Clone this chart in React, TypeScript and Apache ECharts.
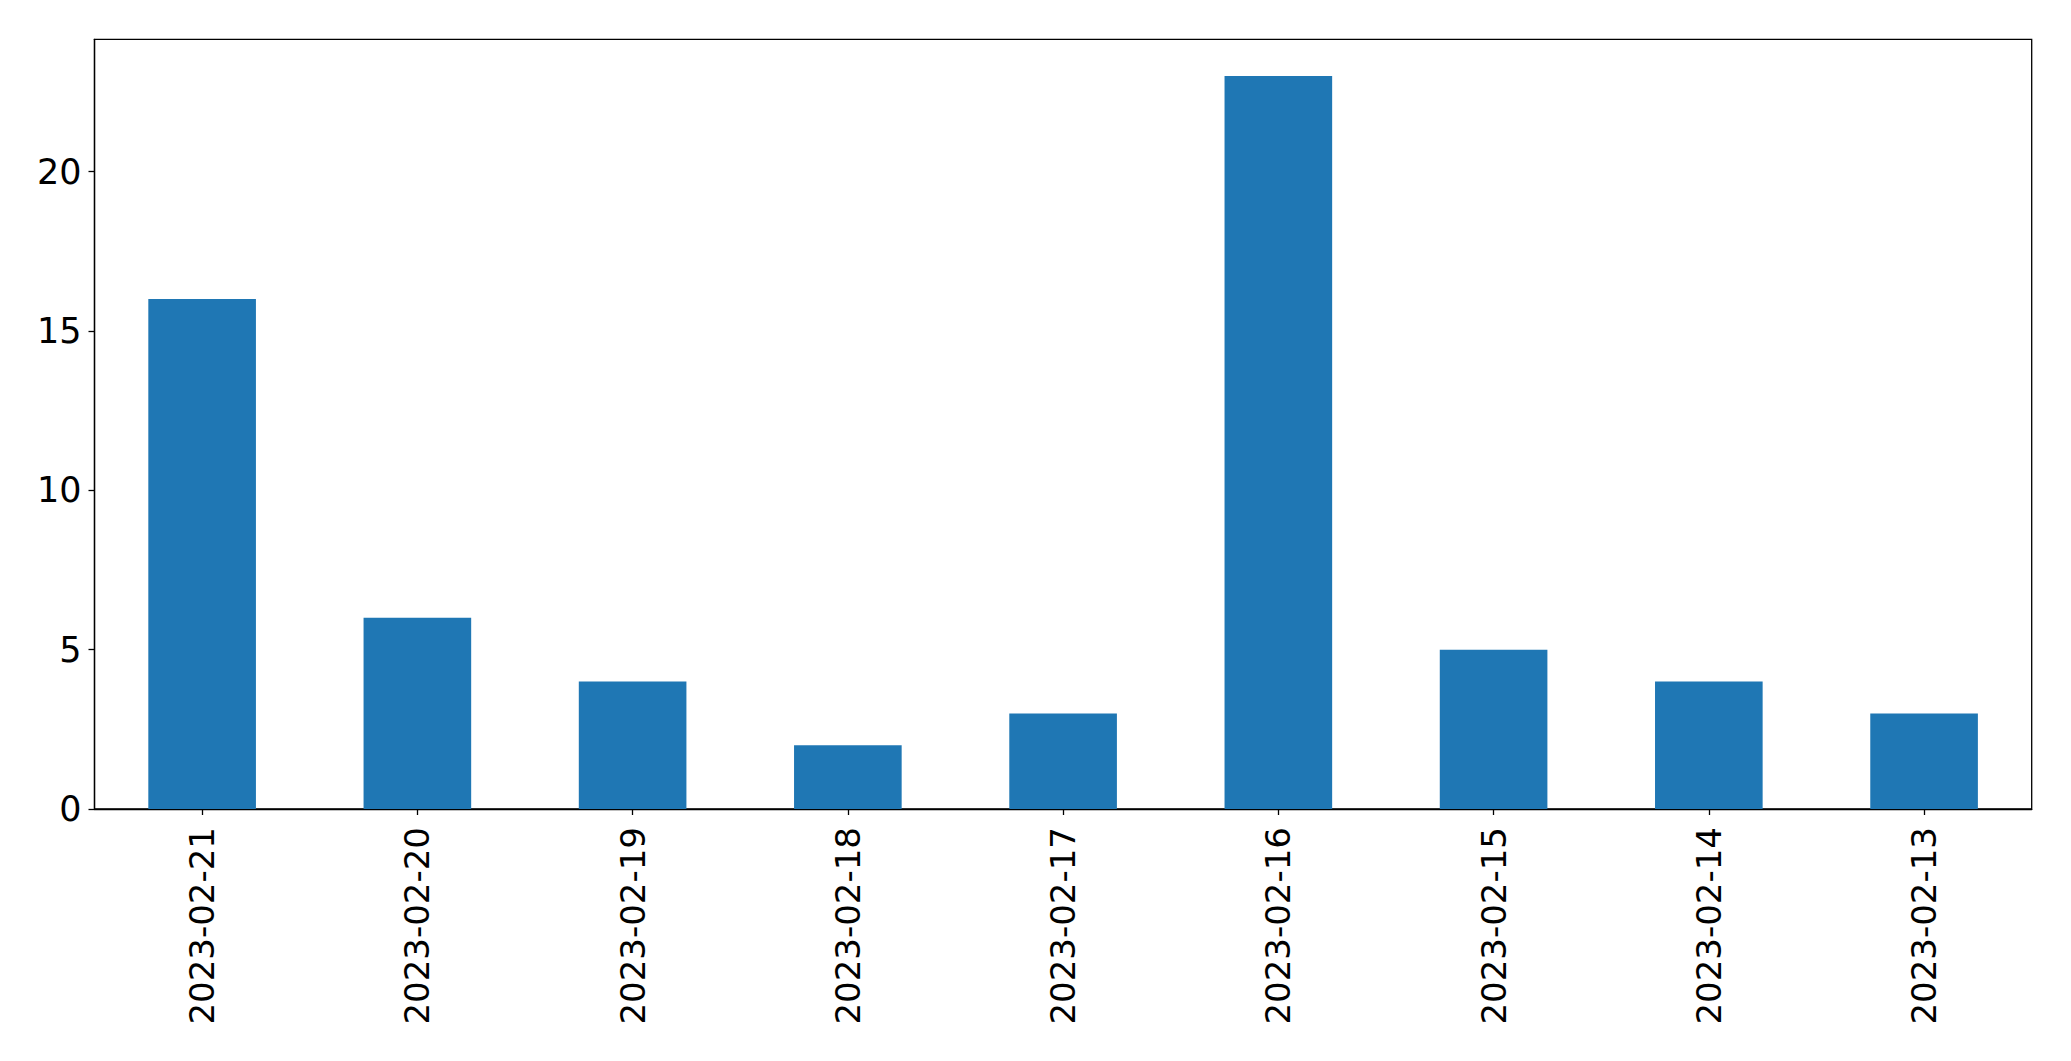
import React, { useEffect, useRef } from "react";
import * as echarts from "echarts";

const categories = [
  "2023-02-21",
  "2023-02-20",
  "2023-02-19",
  "2023-02-18",
  "2023-02-17",
  "2023-02-16",
  "2023-02-15",
  "2023-02-14",
  "2023-02-13",
];
const values = [16, 6, 4, 2, 3, 23, 5, 4, 3];
const yTicks = [0, 5, 10, 15, 20];
const yMax = 24.15;

export default function App() {
  const ref = useRef<HTMLDivElement>(null);
  useEffect(() => {
    if (!ref.current) return;
    const chart = echarts.init(ref.current, null, { renderer: "svg" });
    const font = "DejaVu Sans";
    chart.setOption({
      animation: false,
      backgroundColor: "#ffffff",
      grid: {
        left: 94.5,
        top: 39.3,
        right: 39.3,
        bottom: 252,
        show: true,
        borderColor: "#000000",
        borderWidth: 1.3,
        backgroundColor: "transparent",
      },
      xAxis: {
        type: "category",
        data: categories,
        boundaryGap: true,
        axisLine: { show: true, lineStyle: { color: "#000000", width: 1.3 } },
        axisTick: {
          show: true,
          alignWithLabel: true,
          length: 6,
          lineStyle: { color: "#000000", width: 1.3 },
        },
        axisLabel: {
          rotate: 90,
          margin: 18,
          color: "#000000",
          fontFamily: font,
          fontSize: 34,
          interval: 0,
        },
        splitLine: { show: false },
      },
      yAxis: {
        type: "value",
        min: 0,
        max: yMax,
        interval: 5,
        axisLine: { show: true, lineStyle: { color: "#000000", width: 1.3 } },
        axisTick: {
          show: true,
          length: 6,
          customValues: yTicks,
          lineStyle: { color: "#000000", width: 1.3 },
        },
        axisLabel: {
          margin: 13,
          color: "#000000",
          fontFamily: font,
          fontSize: 35,
          customValues: yTicks,
        },
        splitLine: { show: false },
      },
      series: [
        {
          type: "bar",
          data: values,
          barWidth: "50%",
          itemStyle: { color: "#1f77b4" },
        },
      ],
    });
    return () => chart.dispose();
  }, []);
  return (
    <div
      ref={ref}
      style={{ position: "fixed", left: 0, top: 0, width: "2071px", height: "1061px", background: "#fff" }}
    />
  );
}
